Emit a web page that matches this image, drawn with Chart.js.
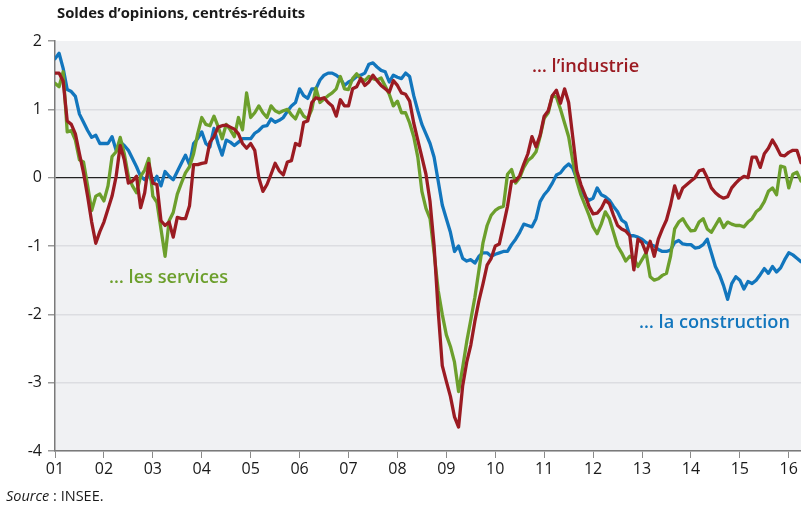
<html lang="fr">
<head>
    <meta charset="utf-8"/>
    <title>Soldes d'opinions</title>
    <script src="https://cdn.jsdelivr.net/npm/chart.js"></script>
    <style>
        body { margin: 0; background: #ffffff; }
        #wrap { width: 801px; height: 509px; }
    </style>
</head>
<body>
<div id="wrap"><canvas id="chart" width="801" height="509"></canvas></div>
<script>
    // monthly series, Jan 2001 -> Apr 2016
    const yearLabels = ['01','02','03','04','05','06','07','08','09','10','11','12','13','14','15','16'];

    const industrie = [
        1.53, 1.53, 1.41, 0.83, 0.78, 0.64, 0.35, 0.07, -0.27, -0.65, -0.96, -0.79,
        -0.65, -0.46, -0.27, 0.02, 0.47, 0.26, -0.08, -0.05, 0.02, -0.44, -0.22, 0.21,
        -0.08, -0.1, -0.63, -0.7, -0.65, -0.87, -0.58, -0.6, -0.6, -0.41, 0.19, 0.19,
        0.21, 0.22, 0.52, 0.6, 0.74, 0.76, 0.77, 0.74, 0.71, 0.64, 0.5, 0.43,
        0.5, 0.4, 0.0, -0.2, -0.1, 0.05, 0.21, 0.1, 0.04, 0.23, 0.25, 0.5,
        0.47, 0.81, 0.83, 1.1, 1.17, 1.15, 1.17, 1.1, 1.05, 0.9, 1.14, 1.05,
        1.05, 1.3, 1.33, 1.45, 1.35, 1.4, 1.5, 1.42, 1.35, 1.3, 1.25, 1.42,
        1.35, 1.24, 1.22, 1.12, 0.8, 0.55, 0.3, 0.05, -0.35, -1.0, -1.95, -2.75,
        -2.98, -3.2, -3.5, -3.65, -3.05, -2.7, -2.45, -2.1, -1.8, -1.55, -1.28, -1.18,
        -1.0, -0.97, -0.7, -0.42, -0.05, -0.05, 0.03, 0.2, 0.35, 0.6, 0.45, 0.62,
        0.9, 0.98, 1.2, 1.28, 1.09, 1.3, 1.1, 0.6, 0.1, -0.1, -0.25, -0.42,
        -0.53, -0.52, -0.45, -0.33, -0.38, -0.55, -0.7, -0.75, -0.78, -0.85, -1.35, -0.9,
        -0.95, -1.1, -0.93, -1.15, -0.9, -0.75, -0.62, -0.4, -0.12, -0.3, -0.15, -0.1,
        -0.05, 0.0, 0.1, 0.12, 0.0, -0.15, -0.22, -0.27, -0.3, -0.28, -0.15, -0.08,
        -0.02, 0.02, 0.0, 0.3, 0.3, 0.15, 0.35, 0.43, 0.55, 0.45, 0.33, 0.32,
        0.37, 0.4, 0.4, 0.22
    ];

    const services = [
        1.38, 1.33, 1.55, 0.67, 0.69, 0.55, 0.26, 0.23, -0.12, -0.48, -0.27, -0.24,
        -0.34, -0.12, 0.31, 0.38, 0.59, 0.35, 0.02, -0.12, -0.22, 0.02, 0.11, 0.28,
        -0.27, -0.36, -0.75, -1.15, -0.63, -0.51, -0.24, -0.08, 0.07, 0.16, 0.35, 0.64,
        0.88, 0.78, 0.76, 0.9, 0.75, 0.57, 0.78, 0.7, 0.6, 0.88, 0.7, 1.24,
        0.88, 0.95, 1.05, 0.95, 0.88, 1.05, 0.98, 0.95, 0.98, 1.0, 0.92, 0.86,
        1.0, 0.9, 0.86, 1.0, 1.31, 1.1, 1.15, 1.2, 1.24, 1.3, 1.48, 1.3,
        1.29, 1.45, 1.52, 1.45, 1.42, 1.48, 1.45, 1.43, 1.46, 1.34, 1.22, 1.05,
        1.12, 0.95, 0.95, 0.8, 0.6, 0.3, -0.2, -0.45, -0.6, -1.1, -1.65, -2.0,
        -2.3, -2.47, -2.7, -3.13, -2.78, -2.4, -2.08, -1.75, -1.35, -0.95, -0.7, -0.55,
        -0.48, -0.44, -0.42, 0.05, 0.12, -0.08, 0.0, 0.15, 0.25, 0.3, 0.38, 0.6,
        0.87, 0.95, 1.2, 1.18, 1.0, 0.8, 0.6, 0.25, -0.05, -0.25, -0.4, -0.55,
        -0.72, -0.82, -0.68, -0.5, -0.6, -0.8, -1.0, -1.1, -1.22, -1.15, -1.18, -1.3,
        -1.2, -1.1, -1.45, -1.5, -1.48, -1.43, -1.4, -1.15, -0.75, -0.65, -0.6, -0.7,
        -0.78, -0.77, -0.65, -0.6, -0.75, -0.8, -0.7, -0.6, -0.73, -0.65, -0.68, -0.7,
        -0.7, -0.72, -0.65, -0.6, -0.5, -0.45, -0.35, -0.2, -0.15, -0.25, 0.17, 0.15,
        -0.15, 0.05, 0.08, -0.05
    ];

    const construction = [
        1.74, 1.82, 1.6, 1.29, 1.26, 1.19, 0.93, 0.81, 0.69, 0.59, 0.62, 0.5,
        0.5, 0.5, 0.6, 0.4, 0.52, 0.47, 0.4, 0.28, 0.16, 0.02, -0.03, 0.04,
        -0.08, 0.02, -0.12, 0.09, 0.02, -0.03, 0.09, 0.21, 0.33, 0.19, 0.5, 0.57,
        0.67, 0.5, 0.45, 0.72, 0.5, 0.33, 0.55, 0.52, 0.47, 0.52, 0.57, 0.57,
        0.57, 0.65, 0.69, 0.75, 0.76, 0.86, 0.81, 0.84, 0.88, 0.97, 1.05, 1.1,
        1.3, 1.2, 1.16, 1.3, 1.3, 1.43, 1.5, 1.53, 1.53, 1.5, 1.45, 1.35,
        1.4, 1.43, 1.48, 1.5, 1.53, 1.66, 1.68, 1.62, 1.57, 1.55, 1.4, 1.5,
        1.47, 1.45, 1.53, 1.48, 1.2, 0.98, 0.78, 0.64, 0.5, 0.3, -0.05, -0.4,
        -0.6, -0.8, -1.08, -1.0, -1.18, -1.22, -1.2, -1.25, -1.15, -1.1, -1.1, -1.15,
        -1.12, -1.1, -1.08, -1.08, -0.98, -0.9, -0.8, -0.68, -0.7, -0.72, -0.6, -0.35,
        -0.25, -0.18, -0.08, 0.04, 0.07, 0.15, 0.2, 0.14, -0.02, -0.15, -0.28, -0.33,
        -0.3, -0.15, -0.25, -0.28, -0.33, -0.42, -0.5, -0.62, -0.66, -0.85, -0.85, -0.87,
        -0.9, -0.95, -0.98, -1.0, -1.05, -1.08, -1.08, -1.06, -0.95, -0.92, -0.97, -0.98,
        -0.98, -1.03, -1.02, -0.98, -0.9, -1.1, -1.3, -1.42, -1.58, -1.78, -1.55, -1.45,
        -1.5, -1.63, -1.52, -1.55, -1.5, -1.42, -1.33, -1.4, -1.3, -1.38, -1.32, -1.2,
        -1.1, -1.13, -1.18, -1.23
    ];

    const RED = '#9b1b22';
    const GREEN = '#6c9f2c';
    const BLUE = '#1276bd';
    const FONT = "'Liberation Sans Narrow', 'Open Sans', sans-serif";

    function toPoints(arr) {
        return arr.map((v, i) => ({ x: i, y: v }));
    }

    // plot background + texts around the chart
    const decor = {
        id: 'decor',
        beforeDraw(chart) {
            const { ctx, chartArea: a } = chart;
            ctx.save();
            ctx.fillStyle = '#f0f1f3';
            ctx.fillRect(a.left, a.top, a.right - a.left, a.bottom - a.top);
            ctx.restore();
        },
        afterDraw(chart) {
            const ctx = chart.ctx;
            ctx.save();
            ctx.textBaseline = 'middle';
            ctx.fillStyle = '#1a1a1a';
            ctx.font = "bold 14.8px 'Open Sans', sans-serif";
            ctx.fillText('Soldes d\u2019opinions, centrés-réduits', 57, 14);

            ctx.font = "600 18.2px 'Open Sans', sans-serif";
            ctx.fillStyle = RED;
            ctx.fillText('\u2026 l\u2019industrie', 532, 67);
            ctx.fillStyle = GREEN;
            ctx.fillText('\u2026 les services', 109, 278);
            ctx.fillStyle = BLUE;
            ctx.fillText('\u2026 la construction', 639, 323);

            ctx.fillStyle = '#1a1a1a';
            ctx.font = "italic 14.5px " + FONT;
            ctx.fillText('Source', 6, 497);
            const w = ctx.measureText('Source').width;
            ctx.font = "14.5px " + FONT;
            ctx.fillText(' : INSEE.', 6 + w, 497);
            ctx.restore();
        }
    };

    new Chart(document.getElementById('chart'), {
        type: 'line',
        data: {
            datasets: [
                { label: "l'industrie", data: toPoints(industrie), borderColor: RED },
                { label: 'les services', data: toPoints(services), borderColor: GREEN },
                { label: 'la construction', data: toPoints(construction), borderColor: BLUE }
            ]
        },
        options: {
            responsive: false,
            animation: false,
            layout: { padding: { top: 41, bottom: 28, left: 0, right: 0 } },
            elements: {
                line: { borderWidth: 3.3, tension: 0, borderJoinStyle: 'round', borderCapStyle: 'round' },
                point: { radius: 0 }
            },
            plugins: { legend: { display: false }, tooltip: { enabled: false } },
            scales: {
                x: {
                    type: 'linear',
                    min: 0,
                    max: 183,
                    afterFit: (s) => { s.height = 30; },
                    border: { color: '#7a7a7a', width: 1.5 },
                    grid: { drawOnChartArea: false, drawTicks: true, tickLength: 7, tickColor: '#8a8a8a' },
                    ticks: {
                        stepSize: 12,
                        includeBounds: false,
                        autoSkip: false,
                        maxRotation: 0,
                        padding: 2,
                        color: '#1a1a1a',
                        font: { family: FONT, size: 16 },
                        callback: (v) => yearLabels[v / 12]
                    }
                },
                y: {
                    min: -4,
                    max: 2,
                    afterFit: (s) => { s.width = 55; },
                    border: { color: '#7a7a7a', width: 1.5 },
                    grid: {
                        color: (c) => c.tick.value === 0 ? '#222222' : (c.tick.value === 2 ? 'rgba(0,0,0,0)' : '#dcdde1'),
                        lineWidth: (c) => c.tick.value === 0 ? 1.3 : 1.5,
                        tickLength: 7,
                        tickColor: '#9a9a9a'
                    },
                    ticks: {
                        stepSize: 1,
                        padding: 6,
                        color: '#1a1a1a',
                        font: { family: FONT, size: 16 }
                    }
                }
            }
        },
        plugins: [decor]
    });
</script>
</body>
</html>
